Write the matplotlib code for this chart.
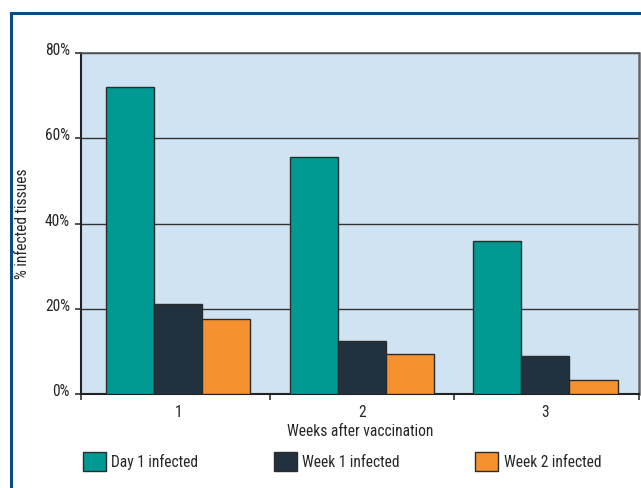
import matplotlib
matplotlib.use('Agg')
import matplotlib.pyplot as plt
from matplotlib import font_manager as fm
from matplotlib.patches import Rectangle
from matplotlib.transforms import ScaledTranslation
import numpy as np

# pick a condensed face if the machine has one
names = {f.name: f for f in fm.fontManager.ttflist}
pick = None
for cand in ['Liberation Sans Narrow', 'Roboto Condensed', 'Noto Sans Condensed',
             'Open Sans Condensed', 'DejaVu Sans Condensed']:
    if cand in names:
        pick = cand
        break
stretch = 'normal'
if pick is None:
    for f in fm.fontManager.ttflist:
        if f.stretch == 'condensed' or 'ondensed' in f.fname or 'Narrow' in f.fname:
            pick = f.name
            stretch = 'condensed'
            break
if pick is None:
    pick = 'Liberation Sans'

plt.rcParams.update({
    'font.family': [pick, 'DejaVu Sans'],
    'font.stretch': stretch,
    'font.size': 11.2,
})

# ── data ────────────────────────────────────────────────────────────────
weeks = ['1', '2', '3']
series = ['Day 1 infected', 'Week 1 infected', 'Week 2 infected']
day1 = [72.0, 55.7, 35.8]
week1 = [21.0, 12.5, 9.0]
week2 = [17.5, 9.3, 3.4]
yticks = [0, 20, 40, 60, 80]

COLORS = ['#009A93', '#223140', '#F5922F']
BG = '#CFE3F3'
EDGE = '#2B2B2B'
TXT = '#262626'

fig = plt.figure(figsize=(6.41, 4.88), dpi=100)
ax = fig.add_axes([81 / 641, 1 - 394 / 488, (639 - 81) / 641, (394 - 53) / 488])
ax.set_facecolor(BG)

x = np.arange(len(weeks))
w = 0.262
for i, (vals, lab) in enumerate(zip([day1, week1, week2], series)):
    ax.bar(x + (i - 1) * w, vals, width=w, color=COLORS[i], edgecolor=EDGE,
           linewidth=1.0, label=lab, zorder=3)

ax.set_xlim(-0.53, 2.51)
ax.set_ylim(0, 80)
ax.set_yticks(yticks)
ax.set_yticklabels([f'{v}%' for v in yticks])
ax.yaxis.grid(True, color='#333333', lw=1.0, zorder=1)
ax.set_axisbelow(True)

ax.set_xticks(x)
ax.set_xticklabels(weeks)
ax.set_xticks([-0.53, 0.5, 1.5, 2.51], minor=True)
ax.tick_params(axis='x', which='major', length=0, pad=8, colors=TXT)
ax.tick_params(axis='x', which='minor', length=4, width=1.2, direction='out', color='#333333')
ax.tick_params(axis='y', length=4, width=1.2, direction='out', pad=4, color='#333333',
               labelcolor=TXT)
# labels sit a touch above their gridline in the original
up = ScaledTranslation(0, 4 / 100, fig.dpi_scale_trans)
for t in ax.get_yticklabels():
    t.set_transform(t.get_transform() + up)

for s in ['left', 'bottom']:
    ax.spines[s].set_color('#222222')
    ax.spines[s].set_linewidth(1.5)
ax.spines['right'].set_color('#666666')
ax.spines['right'].set_linewidth(1.8)
ax.spines['top'].set_color('#555555')
ax.spines['top'].set_linewidth(1.2)

ax.set_ylabel('% infected tissues', color=TXT)
ax.yaxis.set_label_coords((30 - 81) / 558, 0.5)
ax.set_xlabel('Weeks after vaccination', color=TXT)
ax.xaxis.set_label_coords(0.5, -(431 - 394) / 341, transform=ax.transAxes)
ax.xaxis.label.set_va('center')

leg = fig.legend(loc='upper left', bbox_to_anchor=(83 / 641, 1 - 452 / 488), ncol=3,
                 frameon=False, handlelength=1.48, handleheight=1.48, handletextpad=0.35,
                 columnspacing=4.85, borderpad=0, borderaxespad=0)
for t in leg.get_texts():
    t.set_color(TXT)

# outer frame
fig.add_artist(Rectangle((11 / 641, -0.1), 1.0, 1 - 13 / 488 + 0.1,
                         transform=fig.transFigure, fill=False,
                         edgecolor='#0B4A85', linewidth=2.2, clip_on=False))

fig.savefig('out.png', dpi=100)
